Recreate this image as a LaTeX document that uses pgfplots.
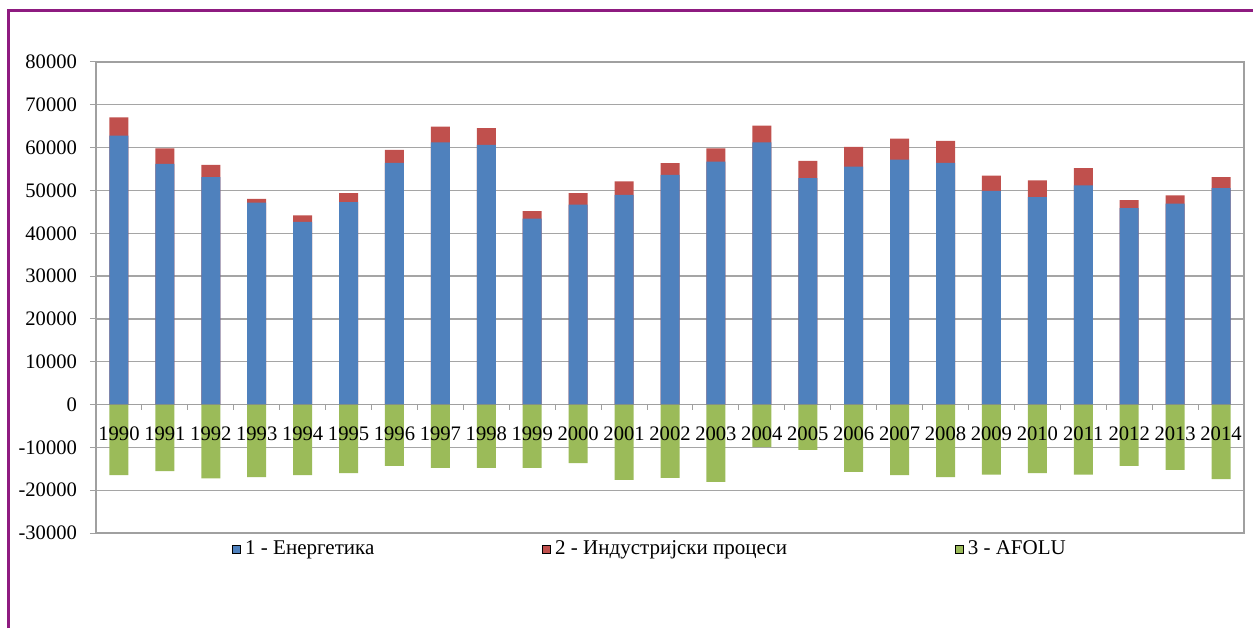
\documentclass[border=0pt]{standalone}
\usepackage{fontspec}
\setmainfont{LiberationSerif}[Extension=.ttf, UprightFont=*-Regular, BoldFont=*-Bold]
\usepackage{pgfplots}
\usepackage{pgfplotstable}
\pgfplotsset{compat=1.18}
\definecolor{eblue}{RGB}{79,129,189}
\definecolor{ired}{RGB}{192,80,77}
\definecolor{agreen}{RGB}{155,187,89}
\definecolor{gridg}{RGB}{165,165,165}
\definecolor{frameg}{RGB}{160,160,160}
\definecolor{purp}{RGB}{142,27,128}
\pgfplotstableread{
idx year e i a
0 1990 62800 4250 -16490
1 1991 56200 3650 -15560
2 1992 53100 2870 -17270
3 1993 47130 930 -16960
4 1994 42640 1550 -16490
5 1995 47290 2090 -16030
6 1996 56430 3030 -14320
7 1997 61240 3650 -14780
8 1998 60620 3950 -14780
9 1999 43410 1780 -14780
10 2000 46670 2710 -13690
11 2001 48990 3100 -17580
12 2002 53640 2720 -17120
13 2003 56745 3100 -18050
14 2004 61240 3880 -9960
15 2005 52870 4030 -10580
16 2006 55580 4575 -15720
17 2007 57210 4880 -16490
18 2008 56435 5115 -16960
19 2009 49920 3570 -16340
20 2010 48450 3875 -16030
21 2011 51160 4030 -16340
22 2012 45890 1860 -14320
23 2013 46900 1940 -15250
24 2014 50540 2560 -17430
}\datatable
\pgfplotsset{
  common/.style={
    at={(48pt,47.5pt)}, anchor=south west,
    scale only axis, width=574pt, height=235.5pt,
    xmin=-0.5, xmax=24.5, ymin=-30000, ymax=80000,
    axis x line*=middle, axis y line*=left,
    xtick={0,...,24},
  }
}
\begin{document}
\begin{tikzpicture}
\path[use as bounding box] (0,0) rectangle (626.5pt,314pt);
\draw[purp, line width=1.5pt] (4pt,0) -- (4pt,308.5pt) -- (626.5pt,308.5pt);
\begin{axis}[
  common,
  ytick={-30000,-20000,...,80000},
  axis line style={frameg, line width=0.8pt},
  xticklabels={},
  minor x tick num=1,
  major x tick style={draw=none},
  minor x tick style={frameg, line width=0.5pt},
  minor tick length=2.5pt,
  xtick align=outside,
  major y tick style={frameg, line width=0.5pt},
  ytick align=outside, major tick length=3pt,
  ymajorgrids, grid style={gridg, line width=0.6pt},
  scaled y ticks=false,
  /pgf/number format/fixed,
  /pgf/number format/1000 sep={},
  /pgf/number format/assume math mode=true,
  yticklabel style={font=\fontsize{10.3}{12}\selectfont, xshift=-3pt},
  legend columns=3,
  legend style={at={(0.1185,-0.034)}, anchor=west, draw=none, fill=none, inner sep=0pt,
    font=\fontsize{10.5}{12}\selectfont,
    /tikz/every even column/.append style={column sep=82pt}},
  legend image code/.code={\fill[#1] (0pt,-2pt) rectangle (4pt,2pt);},
  clip=false,
]
\draw[frameg, line width=0.9pt] (rel axis cs:0,0) rectangle (rel axis cs:1,1);
\addlegendimage{fill=eblue}
\addlegendentry{1 - Енергетика}
\addlegendimage{fill=ired}
\addlegendentry{2 - Индустријски процеси}
\addlegendimage{fill=agreen}
\addlegendentry{3 - AFOLU}
\addplot[ybar, bar width=9.5pt, bar shift=0pt, fill=ired, draw=none, forget plot]
  table[x=idx, y expr=\thisrow{e}+\thisrow{i}] {\datatable};
\addplot[ybar, bar width=9.5pt, bar shift=0pt, fill=eblue, draw=none, forget plot]
  table[x=idx, y=e] {\datatable};
\addplot[ybar, bar width=9.5pt, bar shift=0pt, fill=agreen, draw=none, forget plot]
  table[x=idx, y=a] {\datatable};
\end{axis}
\begin{axis}[
  common,
  axis line style={draw=none},
  ytick=\empty,
  xticklabels={1990,1991,1992,1993,1994,1995,1996,1997,1998,1999,2000,2001,2002,2003,2004,2005,2006,2007,2008,2009,2010,2011,2012,2013,2014},
  major x tick style={draw=none},
  xtick align=outside, major tick length=2.5pt,
  xticklabel style={font=\fontsize{10.3}{12}\selectfont, yshift=-5pt, inner xsep=0pt},
]
\end{axis}
\end{tikzpicture}
\end{document}
